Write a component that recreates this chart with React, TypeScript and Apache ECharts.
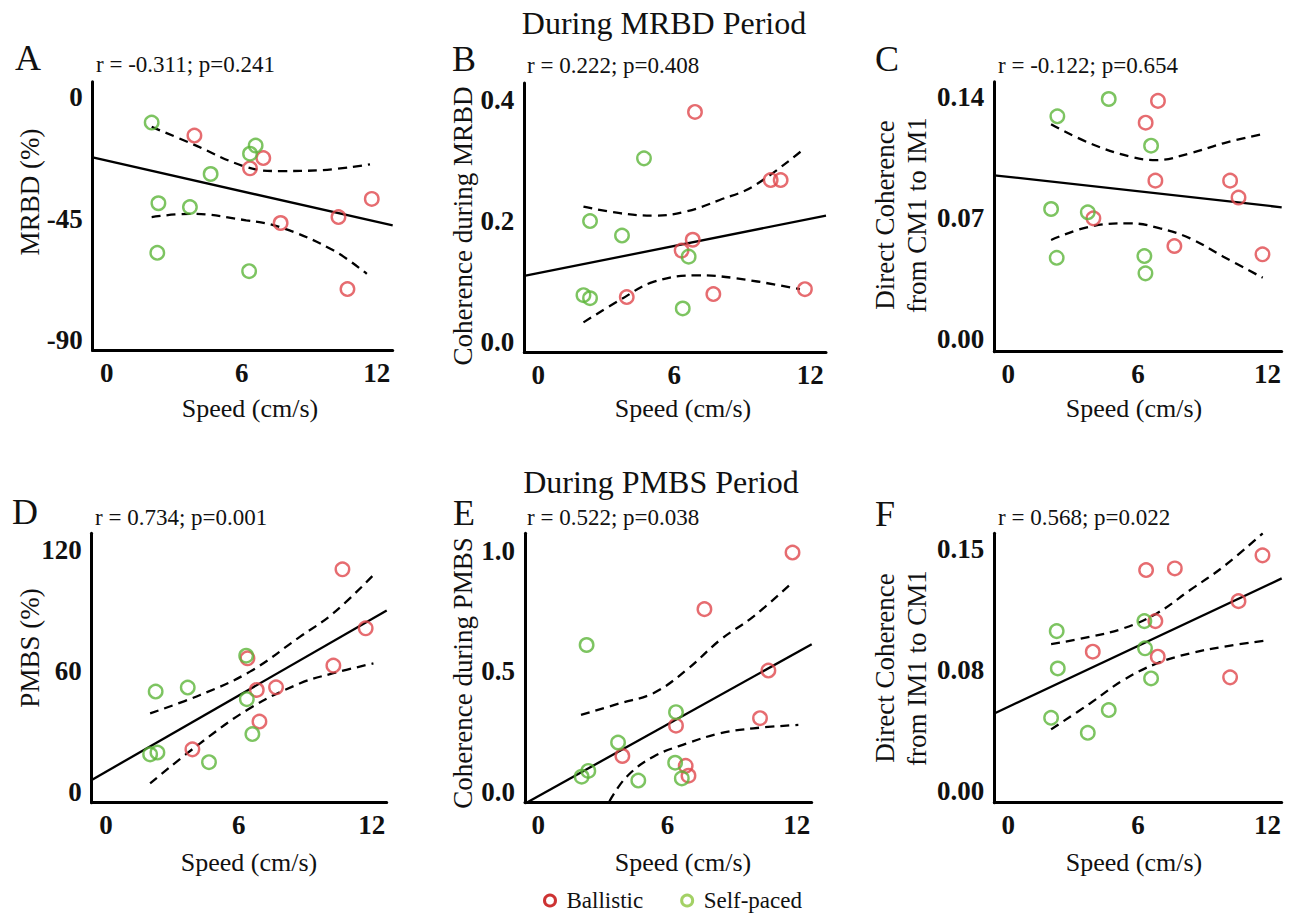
import React, { useEffect, useRef } from "react";
import * as echarts from "echarts";

type P = [number, number];

// ---------- Panel A: MRBD (%) ----------
const aBallistic: P[] = [[3.9, -14.3], [6.96, -22.6], [6.37, -26.4], [11.78, -37.7], [10.3, -44.4], [7.73, -46.6], [10.7, -71]];
const aSelfPaced: P[] = [[2.0, -9.5], [6.62, -18], [6.37, -21], [4.62, -28.5], [2.3, -39.3], [3.7, -40.7], [2.25, -57.6], [6.33, -64.4]];
const aFit: P[] = [[-0.62, -22.4], [12.71, -47.5]];
const aUpper: P[] = [[2.0, -11.1], [3.7, -17], [6.2, -25.9], [7.7, -27.4], [9.5, -27.1], [11.7, -24.9]];
const aLower: P[] = [[2.0, -44.4], [3.7, -43.2], [6.2, -45.6], [7.7, -48.1], [10.07, -56.7], [11.56, -65.4]];

// ---------- Panel B: Coherence during MRBD ----------
const bBallistic: P[] = [[6.91, 0.381], [10.25, 0.268], [10.69, 0.268], [6.81, 0.169], [6.32, 0.151], [3.9, 0.074], [7.72, 0.079], [11.76, 0.087]];
const bSelfPaced: P[] = [[4.66, 0.304], [2.28, 0.2], [3.69, 0.176], [6.63, 0.141], [1.99, 0.077], [2.28, 0.072], [6.37, 0.055]];
const bFit: P[] = [[-0.62, 0.109], [12.69, 0.209]];
const bUpper: P[] = [[1.99, 0.224], [3.6, 0.213], [5.07, 0.209], [6.54, 0.216], [8.0, 0.235], [9.49, 0.258], [11.76, 0.321]];
const bLower: P[] = [[1.99, 0.032], [3.6, 0.069], [5.07, 0.099], [6.99, 0.11], [8.75, 0.105], [11.54, 0.087]];

// ---------- Panel C: Direct Coherence from CM1 to IM1 ----------
const cBallistic: P[] = [[6.93, 0.1379], [6.36, 0.1253], [6.81, 0.0918], [10.27, 0.0918], [10.66, 0.082], [3.94, 0.07], [7.69, 0.054], [11.77, 0.0492]];
const cSelfPaced: P[] = [[4.65, 0.139], [2.27, 0.129], [6.61, 0.112], [1.98, 0.0754], [3.68, 0.0735], [2.24, 0.0472], [6.3, 0.0482], [6.35, 0.0382]];
const cFit: P[] = [[-0.65, 0.0949], [12.66, 0.0764]];
const cUpper: P[] = [[1.98, 0.1244], [3.78, 0.1134], [5.64, 0.1057], [6.87, 0.1037], [8.42, 0.1076], [9.96, 0.1134], [11.78, 0.1188]];
const cLower: P[] = [[1.98, 0.0575], [3.78, 0.0652], [5.64, 0.0671], [7.03, 0.0642], [8.42, 0.0584], [9.96, 0.0478], [11.78, 0.0357]];

// ---------- Panel D: PMBS (%) ----------
const dBallistic: P[] = [[10.68, 110.4], [11.73, 81.1], [6.39, 66.2], [10.27, 62.6], [6.81, 50.5], [7.68, 51.8], [6.93, 34.8], [3.9, 21]];
const dSelfPaced: P[] = [[6.33, 67.5], [2.24, 49.7], [3.69, 51.7], [6.36, 45.9], [6.61, 28.6], [1.99, 18.5], [2.32, 19.4], [4.65, 14.6]];
const dFit: P[] = [[-0.65, 5.8], [12.68, 89.9]];
const dUpper: P[] = [[1.99, 38.9], [4.25, 48], [6.5, 59.6], [8.77, 77], [10.27, 88.6], [12.08, 107.6]];
const dLower: P[] = [[1.99, 4.1], [4.25, 24], [6.5, 41.4], [8.77, 53.8], [10.27, 58.8], [12.08, 63.7]];

// ---------- Panel E: Coherence during PMBS ----------
const eBallistic: P[] = [[11.8, 0.993], [7.71, 0.758], [10.68, 0.503], [10.29, 0.305], [6.39, 0.274], [3.9, 0.148], [6.84, 0.107], [6.97, 0.066]];
const eSelfPaced: P[] = [[2.24, 0.609], [6.39, 0.33], [3.7, 0.204], [6.35, 0.12], [2.32, 0.086], [2.01, 0.062], [4.64, 0.046], [6.66, 0.055]];
const eFit: P[] = [[-0.55, -0.046], [12.69, 0.612]];
const eUpper: P[] = [[1.98, 0.319], [3.79, 0.367], [5.34, 0.409], [6.89, 0.506], [8.44, 0.63], [9.98, 0.727], [11.84, 0.873]];
const eLower: P[] = [[3.3, -0.04], [4.1, 0.062], [5.34, 0.145], [6.89, 0.2], [8.44, 0.242], [9.98, 0.263], [12.07, 0.277]];

// ---------- Panel F: Direct Coherence from IM1 to CM1 ----------
const fBallistic: P[] = [[11.77, 0.1463], [7.71, 0.1382], [6.38, 0.1372], [10.66, 0.1179], [6.81, 0.1055], [3.91, 0.0865], [6.92, 0.0834], [10.27, 0.0706]];
const fSelfPaced: P[] = [[2.24, 0.0993], [6.3, 0.1055], [6.33, 0.0886], [2.29, 0.0761], [6.61, 0.0699], [4.65, 0.0503], [1.98, 0.0455], [3.68, 0.0362]];
const fFit: P[] = [[-0.65, 0.0482], [12.66, 0.132]];
const fUpper: P[] = [[1.98, 0.0912], [3.78, 0.0958], [5.33, 0.101], [6.87, 0.1103], [8.42, 0.1248], [9.96, 0.1393], [11.78, 0.16]];
const fLower: P[] = [[1.98, 0.0383], [3.78, 0.0544], [5.33, 0.0689], [6.87, 0.0792], [8.42, 0.0855], [9.96, 0.0896], [12.05, 0.0937]];

// ---------- tick labels ----------
const xTicks = [0, 6, 12];
const aTicks = [-90, -45, 0];
const bTicks = [0, 0.2, 0.4];
const cTicks = [0, 0.07, 0.14];
const dTicks = [0, 60, 120];
const eTicks = [0, 0.5, 1.0];
const fTicks = [0, 0.075, 0.15];
const fTickLabels = ["0.00", "0.08", "0.15"];

const yNames = ["MRBD (%)", "Coherence during MRBD", "Direct Coherence\nfrom CM1 to IM1", "PMBS (%)", "Coherence during PMBS", "Direct Coherence\nfrom IM1 to CM1"];
const stats = ["r = -0.311; p=0.241", "r = 0.222; p=0.408", "r = -0.122; p=0.654", "r = 0.734; p=0.001", "r = 0.522; p=0.038", "r = 0.568; p=0.022"];
const letters = ["A", "B", "C", "D", "E", "F"];
const titles = ["During MRBD Period", "During PMBS Period"];
const legendNames = ["Ballistic", "Self-paced"];

const SERIF = "Liberation Serif";
const RED = "#e0474c";
const GREEN = "#5db53a";

export default function App() {
  const ref = useRef<HTMLDivElement>(null);
  useEffect(() => {
    if (!ref.current) return;
    const chart = echarts.init(ref.current, null, { renderer: "svg" });

    const panels = [
      { b: aBallistic, s: aSelfPaced, fit: aFit, up: aUpper, lo: aLower, ticks: aTicks, fmt: (v: number) => String(v), ymin: -93.7, ymax: 5.6, xmin: -0.62, xmax: 12.71, g: { left: 92.7, right: 392.7, top: 81.7, bottom: 350.5 } },
      { b: bBallistic, s: bSelfPaced, fit: bFit, up: bUpper, lo: bLower, ticks: bTicks, fmt: (v: number) => v.toFixed(1), ymin: -0.018, ymax: 0.429, xmin: -0.62, xmax: 12.69, g: { left: 524.3, right: 826, top: 83, bottom: 352.5 } },
      { b: cBallistic, s: cSelfPaced, fit: cFit, up: cUpper, lo: cLower, ticks: cTicks, fmt: (v: number) => v.toFixed(2), ymin: -0.0071, ymax: 0.149, xmin: -0.65, xmax: 12.66, g: { left: 994.3, right: 1281.7, top: 81.7, bottom: 351.7 } },
      { b: dBallistic, s: dSelfPaced, fit: dFit, up: dUpper, lo: dLower, ticks: dTicks, fmt: (v: number) => String(v), ymin: -5.5, ymax: 128.3, xmin: -0.65, xmax: 12.68, g: { left: 91.7, right: 386.7, top: 533.3, bottom: 802.7 } },
      { b: eBallistic, s: eSelfPaced, fit: eFit, up: eUpper, lo: eLower, ticks: eTicks, fmt: (v: number) => v.toFixed(1), ymin: -0.046, ymax: 1.073, xmin: -0.62, xmax: 12.69, g: { left: 525, right: 811.7, top: 533.3, bottom: 802.7 } },
      { b: fBallistic, s: fSelfPaced, fit: fFit, up: fUpper, lo: fLower, ticks: fTicks, fmt: (v: number) => { const i = fTicks.findIndex((t) => Math.abs(t - v) < 1e-9); return i >= 0 ? fTickLabels[i] : ""; }, ymin: -0.0072, ymax: 0.16, xmin: -0.65, xmax: 12.66, g: { left: 994.3, right: 1281.7, top: 533.3, bottom: 802.7 } },
    ];

    const grid: any[] = [];
    const xAxis: any[] = [];
    const yAxis: any[] = [];
    const series: any[] = [];
    const axisLine = { show: true, onZero: false, lineStyle: { color: "#000", width: 3 } };
    const tickLabel = { fontFamily: SERIF, fontSize: 27, fontWeight: "bold" as const, color: "#111" };

    panels.forEach((p, i) => {
      grid.push({ left: p.g.left, top: p.g.top, width: p.g.right - p.g.left, height: p.g.bottom - p.g.top, containLabel: false });
      xAxis.push({
        type: "value", gridIndex: i, min: p.xmin, max: p.xmax,
        axisLine, axisTick: { show: false }, splitLine: { show: false },
        axisLabel: { ...tickLabel, margin: 9, customValues: xTicks, formatter: (v: number) => String(v) },
      });
      yAxis.push({
        type: "value", gridIndex: i, min: p.ymin, max: p.ymax,
        axisLine, axisTick: { show: false }, splitLine: { show: false },
        axisLabel: { ...tickLabel, margin: 10, customValues: p.ticks, formatter: p.fmt },
      });
      const hollow = (c: string) => ({ color: "rgba(255,255,255,0)", borderColor: c, borderWidth: 2.4 });
      series.push({ name: legendNames[0], type: "scatter", xAxisIndex: i, yAxisIndex: i, data: p.b, symbol: "circle", symbolSize: 13.5, itemStyle: hollow(RED), z: 3 });
      series.push({ name: legendNames[1], type: "scatter", xAxisIndex: i, yAxisIndex: i, data: p.s, symbol: "circle", symbolSize: 13.5, itemStyle: hollow(GREEN), z: 4 });
      series.push({ name: "fit" + i, type: "line", xAxisIndex: i, yAxisIndex: i, data: p.fit, showSymbol: false, symbol: "none", lineStyle: { color: "#000", width: 2.3 }, z: 2 });
      series.push({ name: "upper" + i, type: "line", xAxisIndex: i, yAxisIndex: i, data: p.up, smooth: 0.4, showSymbol: false, symbol: "none", lineStyle: { color: "#000", width: 2.3, type: [9, 6] }, z: 2 });
      series.push({ name: "lower" + i, type: "line", xAxisIndex: i, yAxisIndex: i, data: p.lo, smooth: 0.4, showSymbol: false, symbol: "none", lineStyle: { color: "#000", width: 2.3, type: [9, 6] }, z: 2 });
    });

    const letterPos: P[] = [[28, 58], [464, 59], [887, 59], [25, 512], [464, 513], [885, 514]];
    const statPos: P[] = [[96, 64], [527, 65], [998, 65], [95, 517], [527, 517], [998, 517]];
    const yNamePos: P[] = [[30, 192], [463, 226], [901, 215], [30, 648], [463, 673], [901, 668]];
    const xNamePos: P[] = [[250, 408], [683, 408], [1134, 408], [249, 862], [683, 862], [1134, 862]];

    const txt = (text: string, size: number, align: string, extra: any = {}) => ({
      text, fontFamily: SERIF, fontSize: size, fill: "#111", align, verticalAlign: "middle", ...extra,
    });

    const graphic: any[] = [];
    letters.forEach((t, i) => graphic.push({ type: "text", x: letterPos[i][0], y: letterPos[i][1], style: txt(t, 36, "center") }));
    stats.forEach((t, i) => graphic.push({ type: "text", x: statPos[i][0], y: statPos[i][1], style: txt(t, 23, "left") }));
    yNames.forEach((t, i) => graphic.push({ type: "text", x: yNamePos[i][0], y: yNamePos[i][1], rotation: Math.PI / 2, style: txt(t, 27, "center", { lineHeight: 32 }) }));
    xNamePos.forEach((pos) => graphic.push({ type: "text", x: pos[0], y: pos[1], style: txt("Speed (cm/s)", 26, "center") }));
    graphic.push({ type: "text", x: 664, y: 23, style: txt(titles[0], 32, "center") });
    graphic.push({ type: "text", x: 661, y: 482, style: txt(titles[1], 32, "center") });

    chart.setOption({
      animation: false,
      backgroundColor: "#fff",
      grid, xAxis, yAxis, series, graphic,
      legend: {
        data: [
          { name: legendNames[0], itemStyle: { color: "rgba(255,255,255,0)", borderColor: "#c00000", borderWidth: 3 } },
          { name: legendNames[1], itemStyle: { color: "rgba(255,255,255,0)", borderColor: "#8cc63f", borderWidth: 3 } },
        ],
        icon: "circle", itemWidth: 11, itemHeight: 11, left: 543, top: 889, itemGap: 37,
        selectedMode: false, padding: 0,
        textStyle: { fontFamily: SERIF, fontSize: 23, color: "#111", padding: [0, 0, 0, 6] },
      },
    });
    return () => chart.dispose();
  }, []);
  return <div ref={ref} style={{ position: "fixed", left: 0, top: 0, width: 1291, height: 915 }} />;
}
